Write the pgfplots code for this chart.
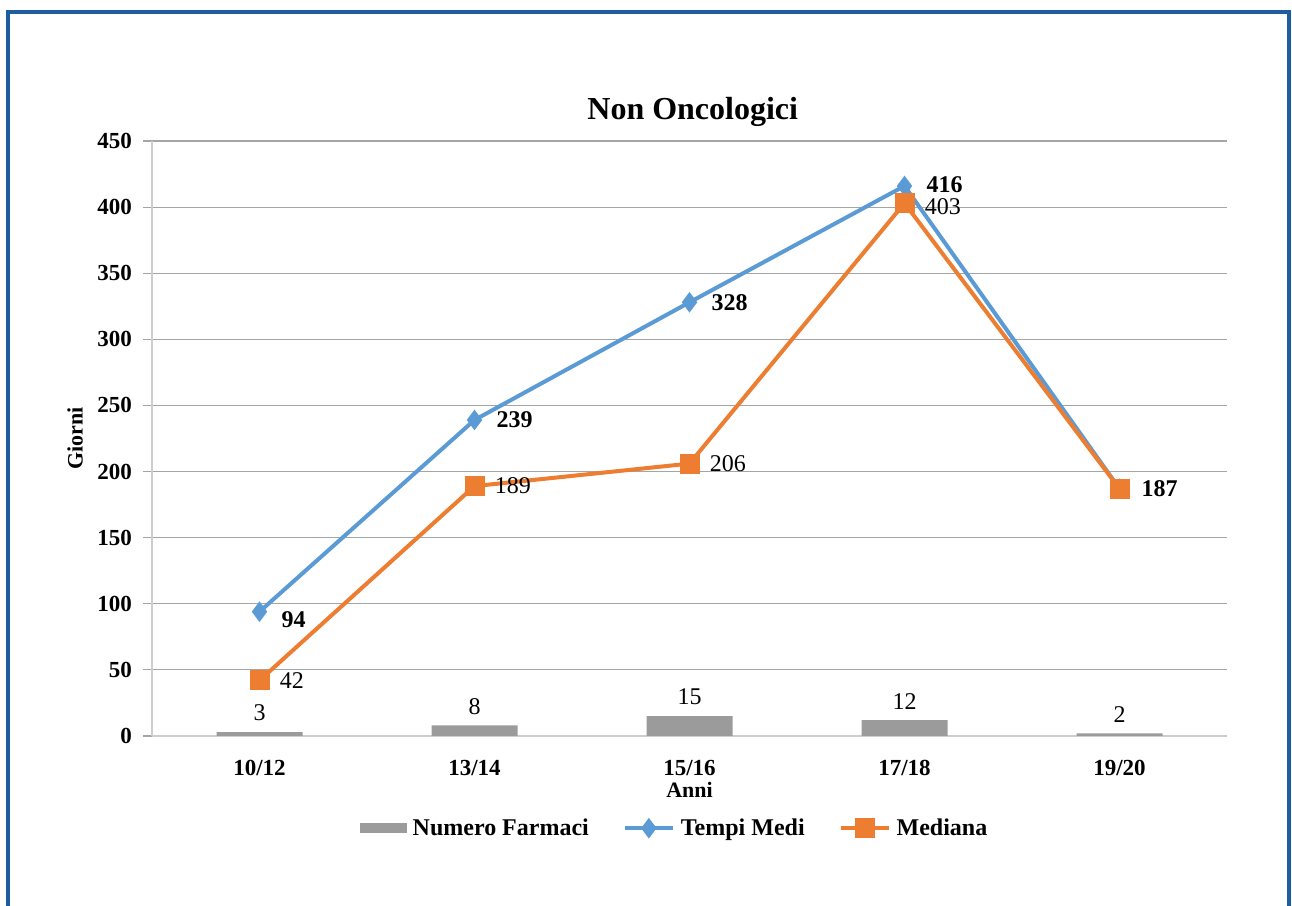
\documentclass[border=0pt]{standalone}
\usepackage{pgfplots}
\pgfplotsset{compat=1.18}
\usepackage{fontspec}
\setmainfont{Liberation Serif}

\definecolor{frameblue}{RGB}{30,94,158}
\definecolor{tmblue}{RGB}{91,155,213}
\definecolor{medorange}{RGB}{237,125,49}
\definecolor{bargray}{RGB}{155,155,155}
\definecolor{gridgray}{RGB}{165,165,165}
\definecolor{axisgray}{RGB}{205,205,205}

\pgfplotsset{
  linelegend/.style={legend image code/.code={\draw[##1, mark repeat=2, mark phase=2]
      plot coordinates {(0pt,0pt) (12pt,0pt) (24pt,0pt)};}},
  barlegend/.style={legend image code/.code={\fill[bargray] (0pt,-2.5pt) rectangle (23.5pt,2.5pt);}},
}

\begin{document}
\begin{tikzpicture}
  \useasboundingbox (0pt,0pt) rectangle (646pt,453pt);
  % outer frame (bottom edge cut off, as in the original)
  \draw[frameblue, line width=1.6pt] (4pt,-10pt) -- (4pt,447pt) -- (644.5pt,447pt) -- (644.5pt,-10pt);
  \begin{axis}[
      at={(76pt,85pt)}, anchor=south west,
      scale only axis, width=537.5pt, height=297.5pt,
      xmin=-0.5, xmax=4.5, ymin=0, ymax=450,
      ytick={0,50,...,450},
      xtick={0,...,4},
      xticklabels={10/12,13/14,15/16,17/18,19/20},
      major x tick style={draw=none},
      extra x ticks={-0.5,0.5,...,4.5},
      extra x tick labels={},
      extra x tick style={major tick length=4pt, tick style={axisgray, line width=0.8pt}, grid=none},
      major tick length=4.5pt,
      tick align=outside,
      y tick style={gridgray, line width=0.6pt},
      axis lines*=left,
      axis line style={axisgray, line width=0.8pt},
      ymajorgrids, grid style={gridgray, line width=0.6pt},
      ticklabel style={font=\fontsize{11.5}{13}\selectfont\bfseries},
      yticklabel style={xshift=-2pt},
      xticklabel style={yshift=-4pt},
      /pgf/number format/assume math mode=true,
      title={Non Oncologici},
      title style={font=\fontsize{16}{18}\selectfont\bfseries, at={(axis description cs:0.503,1.0555)}, anchor=center, yshift=-8pt},
      xlabel={Anni}, ylabel={Giorni},
      xlabel style={font=\fontsize{11}{13}\selectfont\bfseries, at={(axis description cs:0.5,-0.091)}, anchor=center},
      ylabel style={font=\fontsize{11}{13}\selectfont\bfseries, at={(axis description cs:-0.0716,0.5)}, anchor=center},
      legend style={at={(0.487,-0.155)}, anchor=center, draw=none, legend columns=-1,
        font=\fontsize{12}{14}\selectfont\bfseries,
        /tikz/every even column/.append style={column sep=15pt},
        /tikz/every odd column/.append style={column sep=1pt}},
    ]
    % Numero Farmaci
    \addplot[ybar, bar width=43pt, fill=bargray, draw=none, barlegend,
      nodes near coords,
      nodes near coords style={font=\fontsize{12}{14}\selectfont, text=black, yshift=2pt}]
      coordinates {(0,3) (1,8) (2,15) (3,12) (4,2)};
    \addlegendentry{Numero Farmaci}

    % Tempi Medi
    \addplot[tmblue, line width=2pt, mark=diamond*, mark size=3.5pt,
      mark options={solid, fill=tmblue}, linelegend,
      nodes near coords,
      visualization depends on={\thisrow{dy} \as \dy},
      nodes near coords style={font=\fontsize{12}{14}\selectfont\bfseries, text=black,
        anchor=west, inner sep=1pt, xshift=9pt, yshift=\dy pt}]
      table[x=x, y=y] {
        x y   dy
        0 94  -4
        1 239 0
        2 328 0
        3 416 0.5
        4 187 0
      };
    \addlegendentry{Tempi Medi}

    % Mediana
    \addplot[medorange, line width=2pt, mark=square*, mark size=4pt,
      mark options={solid, fill=medorange}, linelegend]
      coordinates {(0,42) (1,189) (2,206) (3,403) (4,187)};
    \addlegendentry{Mediana}

    % Mediana labels (the last one is hidden behind the Tempi Medi label)
    \addplot[draw=none, mark=none, forget plot,
      nodes near coords,
      visualization depends on={\thisrow{dy} \as \dy},
      nodes near coords style={font=\fontsize{12}{14}\selectfont, text=black,
        anchor=west, inner sep=1pt, xshift=9pt, yshift=\dy pt}]
      table[x=x, y=y] {
        x y   dy
        0 42  0
        1 189 0
        2 206 0
        3 403 -1.5
      };
  \end{axis}
\end{tikzpicture}
\end{document}
